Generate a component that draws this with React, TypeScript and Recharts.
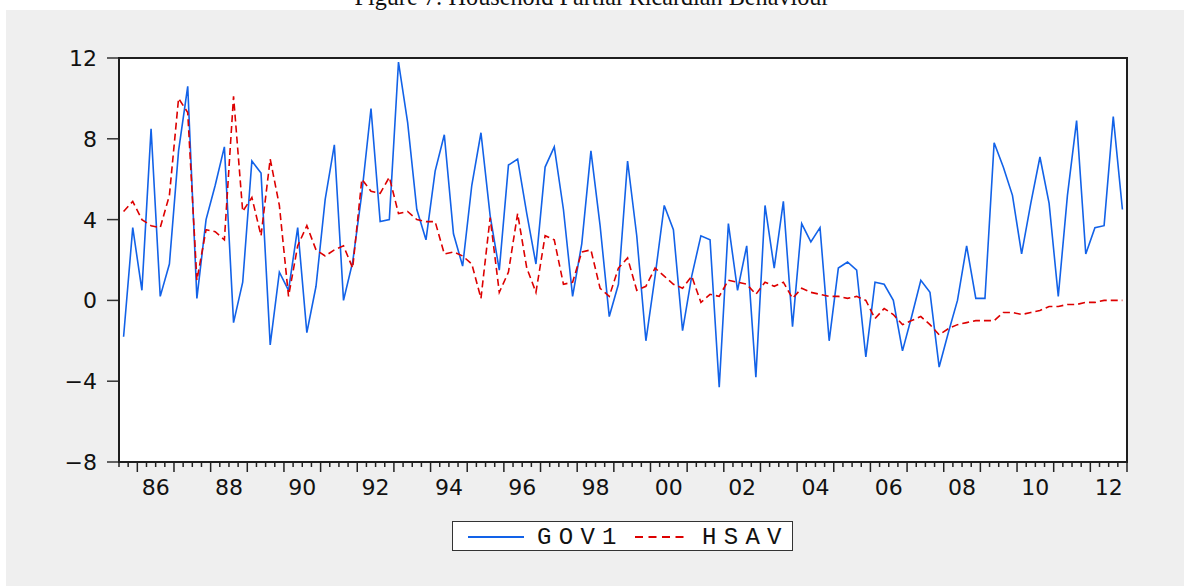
import React from 'react';
import { LineChart, Line, XAxis, YAxis } from 'recharts';

// quarterly sample 1985Q3 - 2012Q4
const startYear = 1985;
const startQuarter = 3;

const gov1 = [
  -1.8, 3.6, 0.5, 8.5, 0.2, 1.8, 7.4, 10.6, 0.1, 4.0,
  5.7, 7.6, -1.1, 0.9, 6.9, 6.3, -2.2, 1.4, 0.5, 3.6,
  -1.6, 0.7, 5.0, 7.7, 0.0, 1.9, 5.3, 9.5, 3.9, 4.0,
  11.8, 8.8, 4.5, 3.0, 6.4, 8.2, 3.3, 1.7, 5.7, 8.3,
  4.2, 1.5, 6.7, 7.0, 4.3, 1.8, 6.6, 7.6, 4.5, 0.2,
  2.8, 7.4, 3.7, -0.8, 0.8, 6.9, 3.2, -2.0, 1.2, 4.7,
  3.5, -1.5, 1.2, 3.2, 3.0, -4.3, 3.8, 0.5, 2.7, -3.8,
  4.7, 1.6, 4.9, -1.3, 3.8, 2.9, 3.6, -2.0, 1.6, 1.9,
  1.5, -2.8, 0.9, 0.8, 0.0, -2.5, -0.8, 1.0, 0.4, -3.3,
  -1.6, 0.0, 2.7, 0.1, 0.1, 7.8, 6.6, 5.2, 2.3, 4.8,
  7.1, 4.8, 0.2, 5.2, 8.9, 2.3, 3.6, 3.7, 9.1, 4.5,
];

const hsav = [
  4.4, 4.9, 4.0, 3.7, 3.6, 5.2, 10.0, 9.3, 1.0, 3.5,
  3.4, 3.0, 10.1, 4.4, 5.1, 3.2, 7.0, 4.7, 0.2, 2.7,
  3.7, 2.5, 2.2, 2.5, 2.7, 1.6, 6.0, 5.4, 5.3, 6.1,
  4.3, 4.4, 4.0, 3.9, 3.9, 2.3, 2.4, 2.2, 1.8, 0.1,
  4.1, 0.4, 1.4, 4.3, 1.6, 0.4, 3.2, 3.0, 0.8, 0.9,
  2.4, 2.5, 0.6, 0.2, 1.6, 2.1, 0.5, 0.7, 1.6, 1.2,
  0.8, 0.6, 1.2, -0.1, 0.3, 0.2, 1.0, 0.9, 0.8, 0.3,
  0.9, 0.7, 0.9, 0.1, 0.6, 0.4, 0.3, 0.2, 0.2, 0.1,
  0.2, 0.0, -0.9, -0.4, -0.7, -1.2, -1.0, -0.8, -1.2, -1.7,
  -1.4, -1.2, -1.1, -1.0, -1.0, -1.0, -0.6, -0.6, -0.7, -0.6,
  -0.5, -0.3, -0.3, -0.2, -0.2, -0.1, -0.1, 0.0, 0.0, 0.0,
];

const yTicks = [-8, -4, 0, 4, 8, 12];
const labelYears = [1986, 1988, 1990, 1992, 1994, 1996, 1998, 2000, 2002, 2004, 2006, 2008, 2010, 2012];
const yearLabels = ['86', '88', '90', '92', '94', '96', '98', '00', '02', '04', '06', '08', '10', '12'];

const BLUE = '#1262e8';
const RED = '#dd0000';

const W = 1184;
const H = 586;
const PLOT = { left: 119, top: 58, right: 1127, bottom: 462 };

const data = gov1.map((g, i) => ({ pos: i + 0.5, GOV1: g, HSAV: hsav[i] }));
const quarterTicks = Array.from({ length: gov1.length + 1 }, (_, i) => i);

const tickFont = { fontFamily: '"DejaVu Sans", sans-serif', fontSize: 22, fill: '#111' };

const XTick = (props: any) => {
  const { x, payload } = props;
  const q = payload.value as number;
  const major = (startQuarter - 1 + q) % 4 === 0;
  const year = startYear + Math.floor((startQuarter - 1 + q) / 4);
  const mid = (startQuarter - 1 + q) % 4 === 2;
  const idx = mid ? labelYears.indexOf(year) : -1;
  return (
    <g>
      <line x1={x} x2={x} y1={PLOT.bottom} y2={PLOT.bottom + (major ? 10 : 5)} stroke="#222" strokeWidth={1.5} />
      {idx >= 0 && (
        <text x={x} y={495} textAnchor="middle" {...tickFont}>
          {yearLabels[idx]}
        </text>
      )}
    </g>
  );
};

const YTick = (props: any) => {
  const { y, payload } = props;
  const v = payload.value as number;
  const label = v < 0 ? '\u2212' + Math.abs(v) : String(v);
  return (
    <g>
      <line x1={107} x2={PLOT.left} y1={y} y2={y} stroke="#333" strokeWidth={1.5} />
      <text x={97} y={y} dy="0.36em" textAnchor="end" {...tickFont}>
        {label}
      </text>
    </g>
  );
};

export default function App() {
  return (
    <div style={{ position: 'absolute', left: 0, top: 0, width: W, height: H, background: '#fff', overflow: 'hidden' }}>
      <div style={{ position: 'absolute', left: 6, top: 10, width: W - 6, height: H - 10, background: '#efefef' }} />
      <svg style={{ position: 'absolute', left: 0, top: 0 }} width={W} height={12}>
        <text x={592} y={5} textAnchor="middle" fontFamily='"Liberation Serif", serif' fontSize={26} fill="#111"
          textLength={475} lengthAdjust="spacingAndGlyphs">
          Figure 7: Household Partial Ricardian Behaviour
        </text>
      </svg>
      <div style={{
        position: 'absolute', left: PLOT.left, top: PLOT.top,
        width: PLOT.right - PLOT.left, height: PLOT.bottom - PLOT.top, background: '#fff',
      }} />
      <div style={{ position: 'absolute', left: 0, top: 0 }}>
        <LineChart width={W} height={H} data={data}
          margin={{ top: PLOT.top, right: W - PLOT.right, left: 0, bottom: 0 }}>
          <XAxis type="number" dataKey="pos" domain={[0, gov1.length]} ticks={quarterTicks} interval={0}
            height={H - PLOT.bottom} axisLine={false} tickLine={false} tickSize={0} tickMargin={0} tick={<XTick />} />
          <YAxis type="number" domain={[-8, 12]} ticks={yTicks} interval={0} width={PLOT.left}
            axisLine={false} tickLine={false} tickSize={0} tickMargin={0} tick={<YTick />} />
          <Line type="linear" dataKey="GOV1" stroke={BLUE} strokeWidth={1.6} dot={false} isAnimationActive={false} />
          <Line type="linear" dataKey="HSAV" stroke={RED} strokeWidth={1.6} strokeDasharray="7 4" dot={false} isAnimationActive={false} />
        </LineChart>
      </div>
      <div style={{
        position: 'absolute', left: PLOT.left - 1, top: PLOT.top - 1,
        width: PLOT.right - PLOT.left + 2, height: PLOT.bottom - PLOT.top + 2,
        border: '2px solid #1e1e1e', boxSizing: 'border-box', pointerEvents: 'none',
      }} />
      <div style={{
        position: 'absolute', left: 452, top: 521, width: 341, height: 30,
        border: '1px solid #333', boxSizing: 'border-box', background: '#fff',
      }}>
        <svg width={341} height={28} style={{ display: 'block' }}>
          <line x1={15} x2={71} y1={15} y2={15} stroke={BLUE} strokeWidth={2} />
          <text x={84} y={22} fontFamily='"Liberation Mono", monospace' fontSize={24} letterSpacing={7.3} fill="#111">GOV1</text>
          <line x1={182} x2={236} y1={15} y2={15} stroke={RED} strokeWidth={2} strokeDasharray="8 5.5" />
          <text x={249} y={22} fontFamily='"Liberation Mono", monospace' fontSize={24} letterSpacing={7.3} fill="#111">HSAV</text>
        </svg>
      </div>
    </div>
  );
}
